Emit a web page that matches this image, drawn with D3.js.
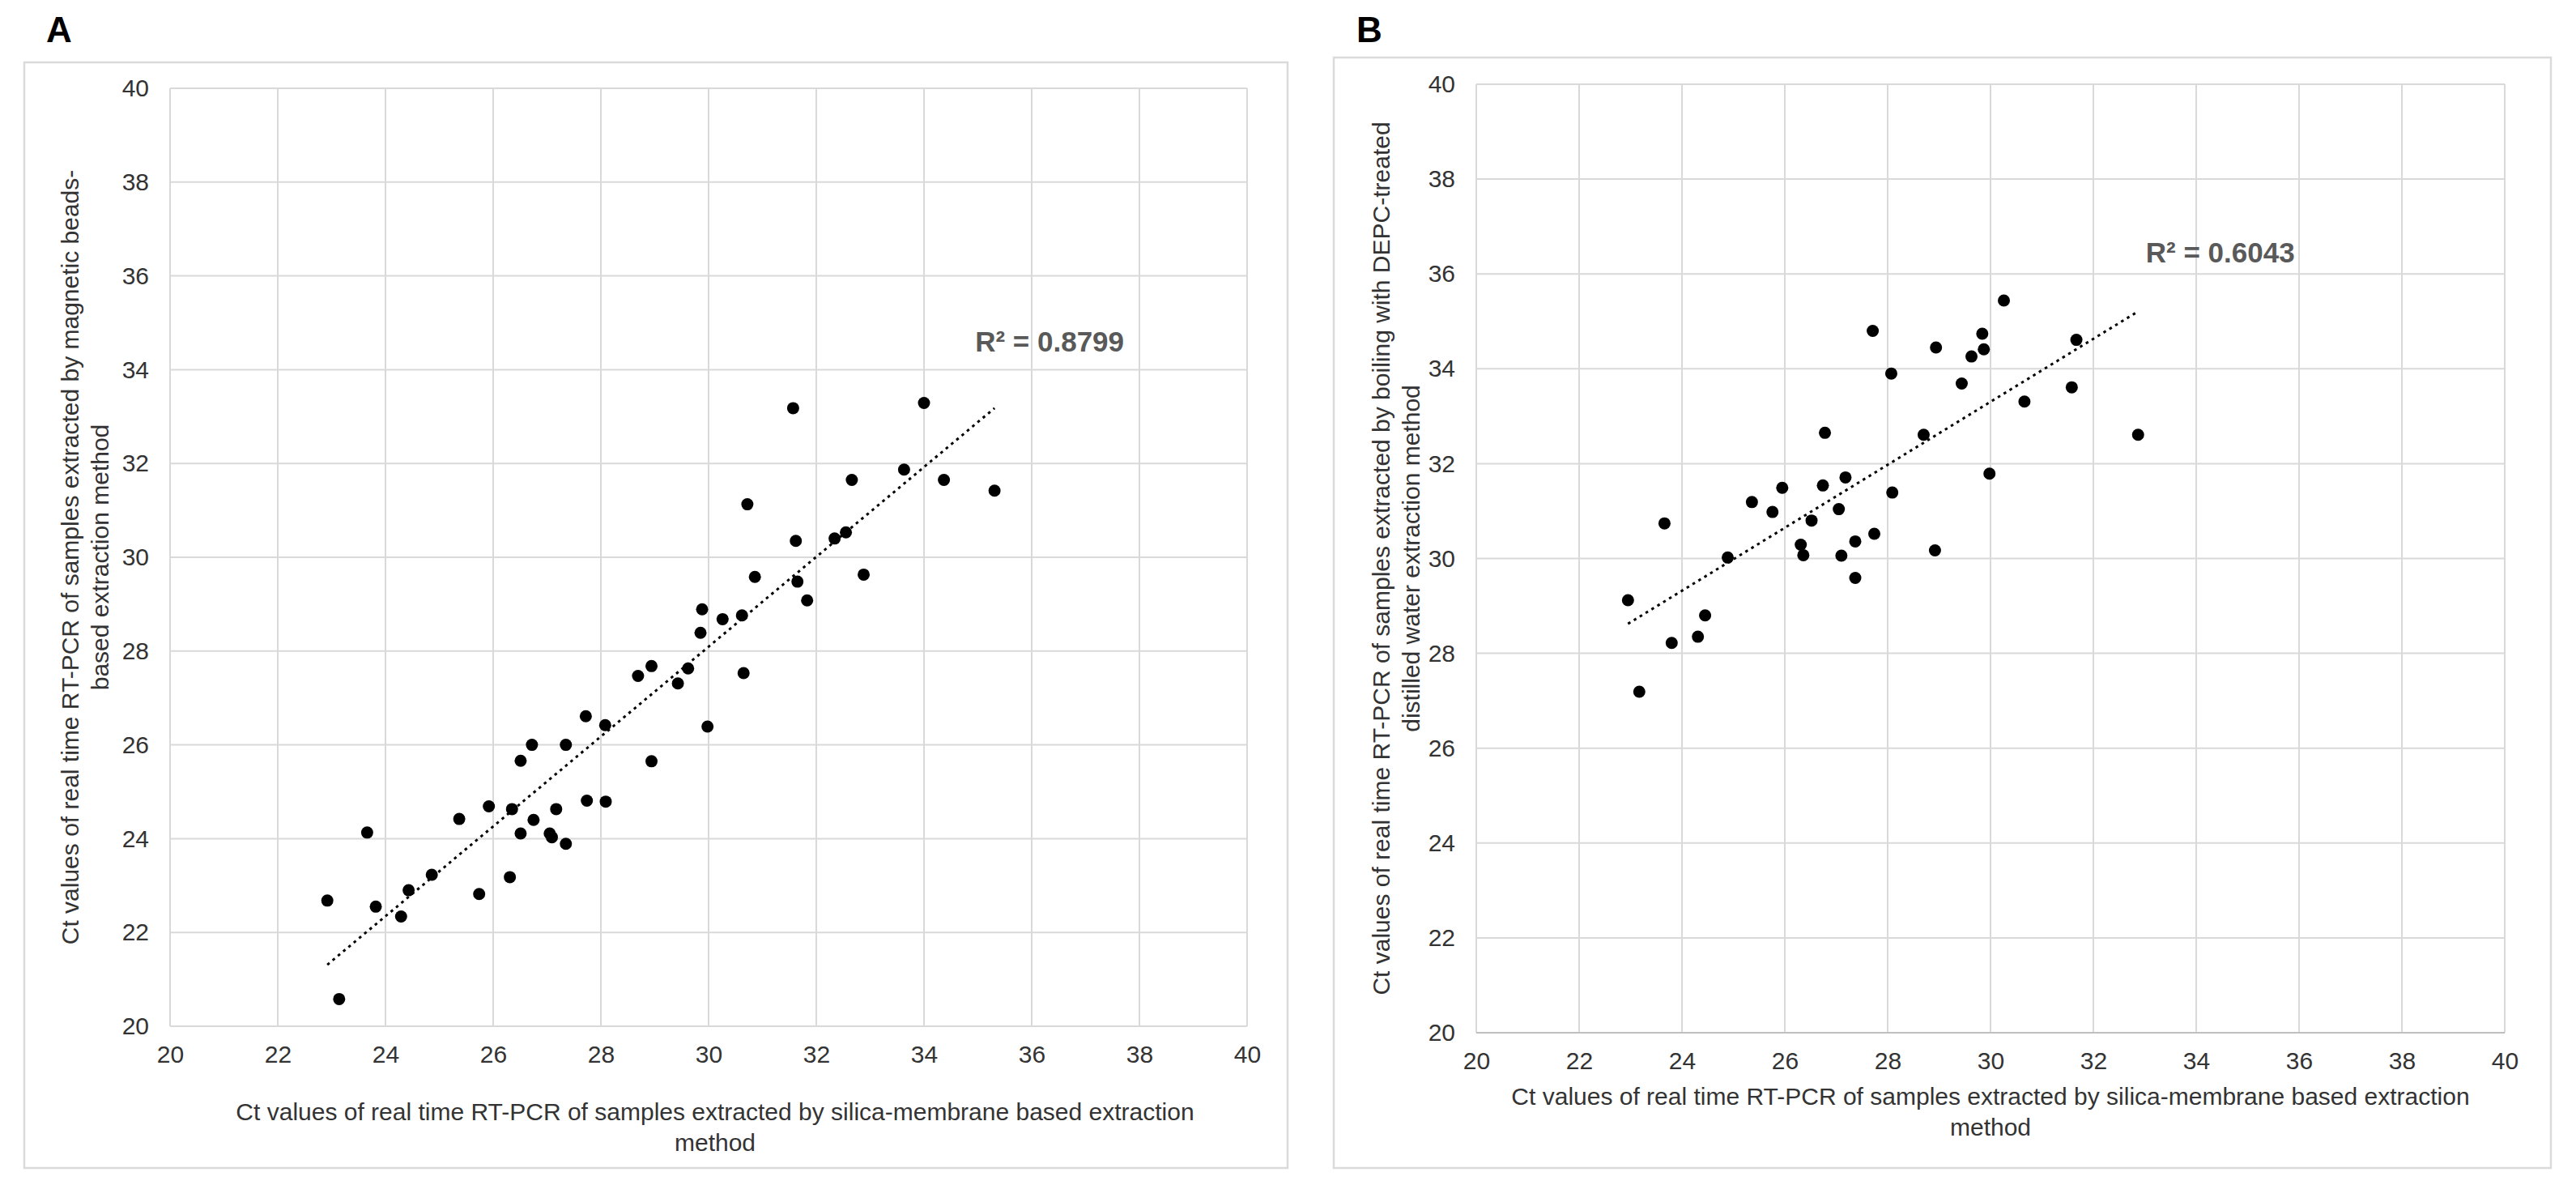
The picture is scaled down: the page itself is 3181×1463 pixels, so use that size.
<!DOCTYPE html>
<html lang="en">
<head>
<meta charset="UTF-8">
<script src="https://d3js.org/d3.v7.min.js"></script>
<title>Ct value comparison</title>
<style>
  body { margin: 0; background: #fff; }
  svg { display: block; font-family: "Liberation Sans", Arial, sans-serif; }
</style>
</head>
<body>
<svg id="chart" width="3181" height="1463"></svg>
<script>
// tick values shared by both axes of both panels
const ticks = [20, 22, 24, 26, 28, 30, 32, 34, 36, 38, 40];

// panel A: silica-membrane (x) vs magnetic beads (y)
const aX = [22.92,23.14,23.66,23.82,24.29,24.43,24.86,25.37,25.74,25.92,26.31,26.35,26.51,26.51,26.72,26.75,27.05,27.09,27.17,27.35,27.35,27.72,27.74,28.08,28.09,28.69,28.94,28.94,29.43,29.62,29.85,29.88,29.98,30.26,30.62,30.65,30.72,30.86,31.57,31.62,31.65,31.83,32.34,32.55,32.66,32.88,33.63,34.0,34.37,35.31];
const aY = [22.68,20.58,24.13,22.55,22.34,22.90,23.23,24.42,22.82,24.69,23.18,24.63,25.66,24.11,26.0,24.40,24.11,24.03,24.63,26.0,23.89,26.61,24.81,26.42,24.79,27.47,27.68,25.65,27.31,27.63,28.39,28.89,26.39,28.68,28.76,27.53,31.13,29.58,33.18,30.35,29.48,29.08,30.40,30.53,31.65,29.63,31.87,33.29,31.65,31.42];

// panel B: silica-membrane (x) vs boiling with DEPC water (y)
const bX = [22.95,23.17,23.66,23.80,24.31,24.45,24.89,25.36,25.76,25.95,26.31,26.36,26.52,26.74,26.78,27.05,27.10,27.18,27.37,27.37,27.71,27.74,28.07,28.09,28.70,28.94,28.92,29.44,29.63,29.84,29.87,29.98,30.26,30.66,31.58,31.67,32.87];
const bY = [29.12,27.19,30.74,28.22,28.35,28.80,30.02,31.19,30.98,31.49,30.29,30.07,30.80,31.54,32.65,31.04,30.06,31.71,30.36,29.59,34.80,30.52,33.90,31.39,32.61,34.45,30.17,33.69,34.26,34.74,34.41,31.79,35.44,33.31,33.61,34.61,32.61];

const xTitle = ["Ct values of real time RT-PCR of samples extracted by silica-membrane based extraction", "method"];
const aYTitle = ["Ct values of real time RT-PCR of samples extracted by magnetic beads-", "based extraction method"];
const bYTitle = ["Ct values of real time RT-PCR of samples extracted by boiling with DEPC-treated", "distilled water extraction method"];

const svg = d3.select("#chart");
const textColor = "#333333";

function fit(xs, ys) {
  const mx = d3.mean(xs), my = d3.mean(ys);
  let sxy = 0, sxx = 0;
  xs.forEach((x, i) => { sxy += (x - mx) * (ys[i] - my); sxx += (x - mx) * (x - mx); });
  const b = sxy / sxx;
  return { b: b, a: my - b * mx };
}

function panel(o) {
  const g = svg.append("g");

  // outer frame
  g.append("rect")
    .attr("x", o.frame[0]).attr("y", o.frame[1])
    .attr("width", o.frame[2] - o.frame[0]).attr("height", o.frame[3] - o.frame[1])
    .attr("fill", "none").attr("stroke", "#dadada").attr("stroke-width", 2.5);

  g.append("text")
    .attr("x", o.label[0]).attr("y", o.label[1])
    .style("font-size", "44px").style("font-weight", "bold").attr("fill", "#000")
    .text(o.name);

  const x = d3.scaleLinear().domain([20, 40]).range([o.plot[0], o.plot[2]]);
  const y = d3.scaleLinear().domain([20, 40]).range([o.plot[3], o.plot[1]]);

  // gridlines
  g.append("g").selectAll("line").data(ticks).join("line")
    .attr("x1", d => x(d)).attr("x2", d => x(d))
    .attr("y1", y(40)).attr("y2", y(20))
    .attr("stroke", "#d9d9d9").attr("stroke-width", 2);
  g.append("g").selectAll("line").data(ticks).join("line")
    .attr("x1", x(20)).attr("x2", x(40))
    .attr("y1", d => y(d)).attr("y2", d => y(d))
    .attr("stroke", d => d === 20 ? o.baseColor : "#d9d9d9").attr("stroke-width", 2);

  // axes labels via d3 axes, lines hidden
  const ax = g.append("g").attr("transform", "translate(0," + y(20) + ")")
    .call(d3.axisBottom(x).tickValues(ticks).tickSize(0).tickPadding(o.xPad));
  const ay = g.append("g").attr("transform", "translate(" + x(20) + ",0)")
    .call(d3.axisLeft(y).tickValues(ticks).tickSize(0).tickPadding(26));
  [ax, ay].forEach(a => {
    a.select(".domain").remove();
    a.selectAll("text").style("font-size", "30px").style("font-family", "Liberation Sans, Arial, sans-serif").attr("fill", textColor);
  });

  // trendline
  const f = fit(o.xs, o.ys);
  const x0 = d3.min(o.xs), x1 = d3.max(o.xs);
  g.append("line")
    .attr("x1", x(x0)).attr("y1", y(f.a + f.b * x0))
    .attr("x2", x(x1)).attr("y2", y(f.a + f.b * x1))
    .attr("stroke", "#000").attr("stroke-width", 3).attr("stroke-dasharray", "3.5,5");

  // points
  g.append("g").selectAll("circle").data(o.xs).join("circle")
    .attr("cx", d => x(d)).attr("cy", (d, i) => y(o.ys[i]))
    .attr("r", 7.5).attr("fill", "#000");

  g.append("text")
    .attr("x", x(o.r2pos[0])).attr("y", y(o.r2pos[1]))
    .attr("dominant-baseline", "central")
    .style("font-size", "35px").style("font-weight", "bold").attr("fill", "#595959")
    .text(o.r2);

  // axis titles
  const cx = (x(20) + x(40)) / 2;
  g.append("text").attr("text-anchor", "middle").attr("fill", textColor).style("font-size", "30px")
    .selectAll("tspan").data(xTitle).join("tspan")
    .attr("x", cx + o.xTitleShift).attr("y", (d, i) => o.xTitleY + i * 38)
    .attr("dominant-baseline", "central").text(d => d);

  const cy = (y(20) + y(40)) / 2;
  o.yTitle.forEach((t, i) => {
    g.append("text")
      .attr("transform", "translate(" + (o.yTitleX + i * 37) + "," + cy + ") rotate(-90)")
      .attr("text-anchor", "middle").attr("dominant-baseline", "central")
      .attr("fill", textColor).style("font-size", "30px")
      .text(t);
  });
}

panel({
  name: "A", label: [57, 52], frame: [30, 77, 1590, 1442], plot: [210, 109, 1540, 1267],
  xs: aX, ys: aY, r2: "R\u00b2 = 0.8799", r2pos: [34.95, 34.6], baseColor: "#d9d9d9",
  xPad: 24, xTitleY: 1372, xTitleShift: 8, yTitle: aYTitle, yTitleX: 86
});
panel({
  name: "B", label: [1675, 52], frame: [1647, 71, 3150, 1442], plot: [1823, 104, 3093, 1275],
  xs: bX, ys: bY, r2: "R\u00b2 = 0.6043", r2pos: [33.02, 36.45], baseColor: "#bfbfbf",
  xPad: 24, xTitleY: 1353, xTitleShift: 0, yTitle: bYTitle, yTitleX: 1705
});
</script>
</body>
</html>
